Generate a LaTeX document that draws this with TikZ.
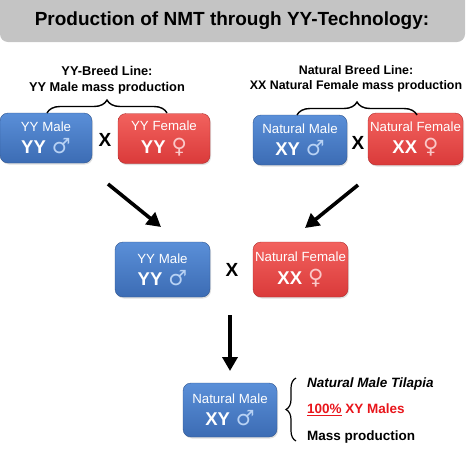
\documentclass[tikz,border=0pt]{standalone}
\usepackage{fontspec}
\setmainfont{Liberation Sans}
\newfontfamily\symfont{DejaVu Sans}
\usetikzlibrary{arrows.meta,decorations.pathreplacing,shadows}
\definecolor{bluetop}{HTML}{5A8FD8}
\definecolor{bluebot}{HTML}{3C6CB4}
\definecolor{redtop}{HTML}{F2625E}
\definecolor{redbot}{HTML}{DA3A3A}
\definecolor{malesym}{HTML}{B8D2F4}
\definecolor{femsym}{HTML}{FAC8C8}
\definecolor{titlegray}{HTML}{C4C4C4}
\definecolor{pctred}{HTML}{E8151B}
\tikzset{
  x=1pt,y=1pt,
  basebox/.style={rounded corners=8pt, align=center, text=white, inner sep=0pt,
     drop shadow={shadow xshift=1pt,shadow yshift=-1.5pt,opacity=0.25}},
  bluebox/.style={basebox, top color=bluetop, bottom color=bluebot, draw=bluebot!80!black, line width=0.4pt},
  redbox/.style={basebox, top color=redtop, bottom color=redbot, draw=redbot!80!black, line width=0.4pt},
  crossmark/.style={font=\fontsize{19}{20}\selectfont\bfseries},
  heading/.style={font=\fontsize{12.8}{15.5}\selectfont\bfseries, align=center},
  bigarrow/.style={line width=3.6pt, -{Triangle[width=15pt,length=14pt]}},
  bracestyle/.style={decorate, line width=1.4pt},
  sidetext/.style={anchor=west, font=\fontsize{13.5}{15}\selectfont\bfseries, inner sep=0pt}
}
\newcommand{\lbl}[1]{{\fontsize{13.3}{14}\selectfont #1}}
\newcommand{\gen}[1]{{\fontsize{18.5}{20}\selectfont\bfseries #1}}
\newcommand{\msym}{\hspace{6pt}{\symfont\fontsize{21}{20}\selectfont\color{malesym}♂}}
\newcommand{\fsym}{\hspace{6pt}{\symfont\fontsize{21}{20}\selectfont\color{femsym}♀}}
\begin{document}
\begin{tikzpicture}
\useasboundingbox (0,0) rectangle (474,-456);
% title
\fill[titlegray, rounded corners=8pt] (0,-42) rectangle (465,12);
\node[font=\fontsize{19}{22}\selectfont\bfseries] (title) at (232,-21) {Production of NMT through YY-Technology:};

% headings
\node[heading] (hleft) at (107,-80) {YY-Breed Line:\\YY Male mass production};
\node[heading, font=\fontsize{12.4}{15.5}\selectfont\bfseries] (hright) at (356,-79) {Natural Breed Line:\\XX Natural Female mass production};

% top boxes
\node[bluebox, minimum width=92pt, minimum height=50pt] (yym) at (46,-138) {\lbl{YY Male}\\[6pt]\gen{YY}\msym};
\node[redbox, minimum width=92pt, minimum height=50pt] (yyf) at (164,-138.5) {\lbl{YY Female}\\[6pt]\gen{YY}\fsym};
\node[crossmark] (x1) at (105,-140) {X};

\node[bluebox, minimum width=94pt, minimum height=50pt] (nm) at (300,-140) {\lbl{Natural Male}\\[6pt]\gen{XY}\msym};
\node[redbox, minimum width=95pt, minimum height=52pt] (nf) at (415.5,-139) {\lbl{Natural Female}\\[6pt]\gen{XX}\fsym};
\node[crossmark] (x2) at (358,-143) {X};

% braces
\coordinate (bl1) at (47,-113);
\coordinate (bl2) at (167,-113);
\coordinate (br1) at (297,-115);
\coordinate (br2) at (417,-115);
\draw[bracestyle, decoration={brace, amplitude=13pt}] (bl1) -- (bl2);
\draw[bracestyle, decoration={brace, amplitude=13pt}] (br1) -- (br2);

% middle row
\coordinate (a1s) at (108,-184);
\coordinate (a1e) at (161,-227);
\coordinate (a2s) at (358,-185);
\coordinate (a2e) at (305,-228);
\draw[bigarrow] (a1s) -- (a1e);
\draw[bigarrow] (a2s) -- (a2e);

\node[bluebox, minimum width=95pt, minimum height=55pt] (myym) at (162.5,-269.5) {\lbl{YY Male}\\[6pt]\gen{YY}\msym};
\node[redbox, minimum width=95pt, minimum height=55pt] (mnf) at (300.5,-269.5) {\lbl{Natural Female}\\[6pt]\gen{XX}\fsym};
\node[crossmark] (x3) at (232,-270) {X};

% bottom
\coordinate (a3s) at (230,-315);
\coordinate (a3e) at (230,-371);
\draw[bigarrow] (a3s) -- (a3e);

\node[bluebox, minimum width=94pt, minimum height=54pt] (res) at (230,-410) {\lbl{Natural Male}\\[6pt]\gen{XY}\msym};

\coordinate (bb1) at (296,-441);
\coordinate (bb2) at (296,-378);
\draw[bracestyle, line width=1.2pt, decoration={brace, amplitude=10pt}] (bb1) -- (bb2);

\node[sidetext] (t1) at (307,-384) {\itshape Natural Male Tilapia};
\node[sidetext, text=pctred] (t2) at (307,-410) {\underline{100\%} XY Males};
\node[sidetext] (t3) at (307,-437) {Mass production};
\end{tikzpicture}
\end{document}
